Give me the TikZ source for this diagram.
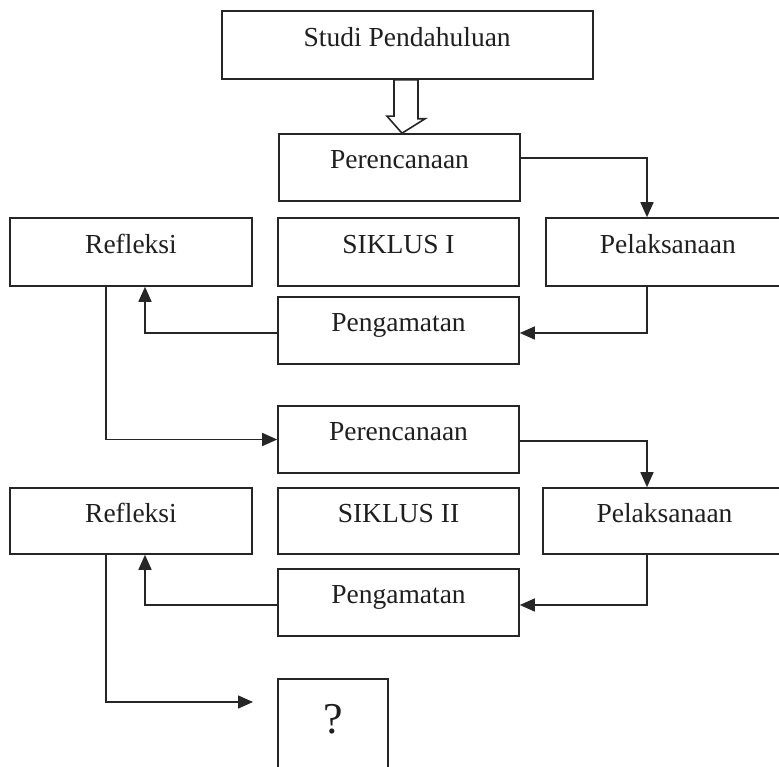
\documentclass[tikz,border=0pt]{standalone}
\usepackage{fontspec}
\setmainfont{Liberation Serif}
\usetikzlibrary{arrows.meta,calc}
\begin{document}
\begin{tikzpicture}[x=1pt,y=-1pt,
  box/.style={draw=black!85, line width=1.6pt, inner sep=0pt, text=black!88,
    font=\fontsize{27.5}{33}\selectfont, text height=0.62em, text depth=0.4em},
  arr/.style={draw=black!85, line width=1.6pt, -{Triangle[length=15pt,width=13pt]}},
  hollow/.style={draw=black!85, line width=1.6pt, fill=white, line join=miter}]
\clip (0,0) rectangle (779,767);
\fill[white] (0,0) rectangle (779,767);
% nodes
\node[box, minimum width=371pt, minimum height=68pt] (studi) at (407.2,45) {Studi Pendahuluan};
\node[box, minimum width=241pt, minimum height=67pt] (per1) at (399.5,167.5) {Perencanaan};
\node[box, minimum width=242pt, minimum height=68pt] (ref1) at (131,252) {Refleksi};
\node[box, minimum width=241pt, minimum height=68pt] (sik1) at (398.5,252) {SIKLUS I};
\node[box, minimum width=244.3pt, minimum height=68pt] (pel1) at (667.85,252) {Pelaksanaan};
\node[box, minimum width=241pt, minimum height=67pt] (pen1) at (398.5,330.5) {Pengamatan};
\node[box, minimum width=241pt, minimum height=67pt] (per2) at (398.5,439.5) {Perencanaan};
\node[box, minimum width=242pt, minimum height=66pt] (ref2) at (131,521) {Refleksi};
\node[box, minimum width=241pt, minimum height=66pt] (sik2) at (398.5,521) {SIKLUS II};
\node[box, minimum width=243pt, minimum height=66pt] (pel2) at (664.5,521) {Pelaksanaan};
\node[box, minimum width=241pt, minimum height=67pt] (pen2) at (398.5,602.5) {Pengamatan};
\node[box, minimum width=110pt, minimum height=111pt, font=\fontsize{44}{50}\selectfont,
  text height=0.5em, text depth=0.63em] (q) at (333,734.5) {?};
\coordinate (qend) at (253,702);
% hollow arrow
\draw[hollow] ([xshift=2.5pt]per1.north) -- ++(-15,-17) -- ++(7,0) |- ([xshift=-5.2pt]studi.south)
  -- ++(16,0) -- ++(0,39) -- ++(7,0) -- cycle;
% cycle I
\draw[arr] ([yshift=9.5pt]per1.east) -| ([xshift=-20.85pt]pel1.north);
\draw[arr] ([xshift=-20.85pt]pel1.south) |- ([yshift=-2.5pt]pen1.east);
\draw[arr] ([yshift=-2.5pt]pen1.west) -| ([xshift=14pt]ref1.south);
\draw[arr] ([xshift=-25pt]ref1.south) |- (per2.west);
% cycle II
\draw[arr] ([yshift=-1.5pt]per2.east) -| ([xshift=-17.5pt]pel2.north);
\draw[arr] ([xshift=-17.5pt]pel2.south) |- ([yshift=-2.5pt]pen2.east);
\draw[arr] ([yshift=-2.5pt]pen2.west) -| ([xshift=14pt]ref2.south);
\draw[arr] ([xshift=-25pt]ref2.south) |- (qend);
\end{tikzpicture}
\end{document}
